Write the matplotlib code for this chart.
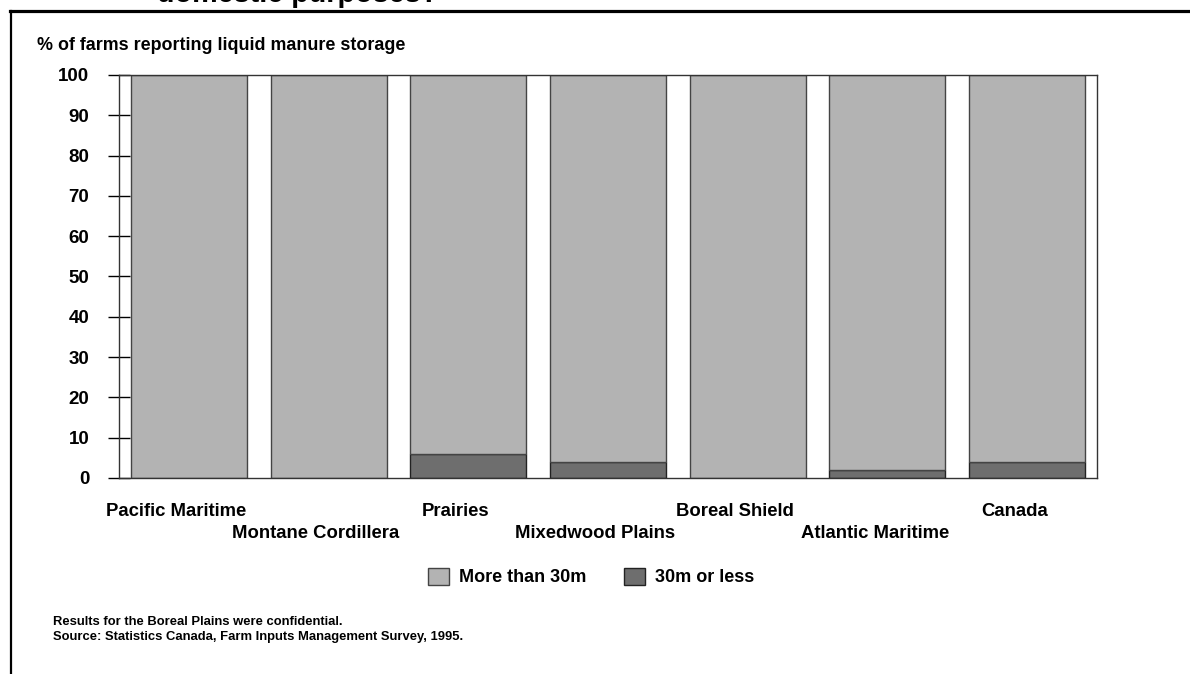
import matplotlib.pyplot as plt
import numpy as np
from matplotlib.lines import Line2D

plt.rcParams['font.family'] = ['Liberation Sans', 'DejaVu Sans']
plt.rcParams['font.weight'] = 'bold'

# data
regions = ['Pacific Maritime', 'Montane Cordillera', 'Prairies', 'Mixedwood Plains',
           'Boreal Shield', 'Atlantic Maritime', 'Canada']
near = [0, 0, 6, 4, 0, 2, 4]          # 30m or less
far = [100, 100, 94, 96, 100, 98, 96]  # more than 30m
yticks = list(range(0, 101, 10))

light = '#b3b3b3'
dark = '#6e6e6e'

fig = plt.figure(figsize=(11.9, 6.74), dpi=100)
ax = fig.add_axes([119/1190, 1-478/674, 978/1190, 403/674])

x = np.arange(len(regions))
ax.bar(x, near, width=0.83, color=dark, edgecolor='#222222', linewidth=1, label='30m or less')
ax.bar(x, far, bottom=near, width=0.83, color=light, edgecolor='#444444', linewidth=1,
       label='More than 30m')

ax.set_xlim(-0.5, len(regions) - 0.5)
ax.set_ylim(0, 100)
ax.set_yticks(yticks)
ax.set_yticklabels([str(t) for t in yticks], fontsize=13.5, fontweight='bold')
ax.tick_params(axis='y', direction='inout', length=16, width=1, pad=13.5)
ax.set_xticks([])
for s in ax.spines.values():
    s.set_color('#333333')
    s.set_linewidth(1)

# staggered category labels
for i, name in enumerate(regions):
    yoff = -0.083 if i % 2 == 0 else -0.137
    ax.text(i - 0.09, yoff, name, transform=ax.get_xaxis_transform(), ha='center', va='center',
            fontsize=13.3, fontweight='bold')

fig.text(37/1190, 1-45/674, '% of farms reporting liquid manure storage', ha='left', va='center',
         fontsize=12.9, fontweight='bold')

h, l = ax.get_legend_handles_labels()
fig.legend(h[::-1], l[::-1], loc='center', bbox_to_anchor=(591/1190, 1-577/674), ncol=2,
           frameon=False, fontsize=13, handlelength=1.15, handleheight=1.1, columnspacing=2.1,
           handletextpad=0.55)

fig.text(53/1190, 1-622/674, 'Results for the Boreal Plains were confidential.', fontsize=9.4,
         fontweight='bold', va='center')
fig.text(53/1190, 1-637/674, 'Source: Statistics Canada, Farm Inputs Management Survey, 1995.',
         fontsize=9.4, fontweight='bold', va='center')

# clipped title from the page above
fig.text(157/1190, 1-1.5/674, 'domestic purposes?', fontsize=20.7, fontweight='bold',
         va='baseline')

# page frame
fig.add_artist(Line2D([10/1190, 1], [1-11/674, 1-11/674], transform=fig.transFigure,
                      color='black', linewidth=2.3))
fig.add_artist(Line2D([11/1190, 11/1190], [0, 1-11/674], transform=fig.transFigure,
                      color='black', linewidth=1.6))

fig.savefig('out.png', dpi=100)
